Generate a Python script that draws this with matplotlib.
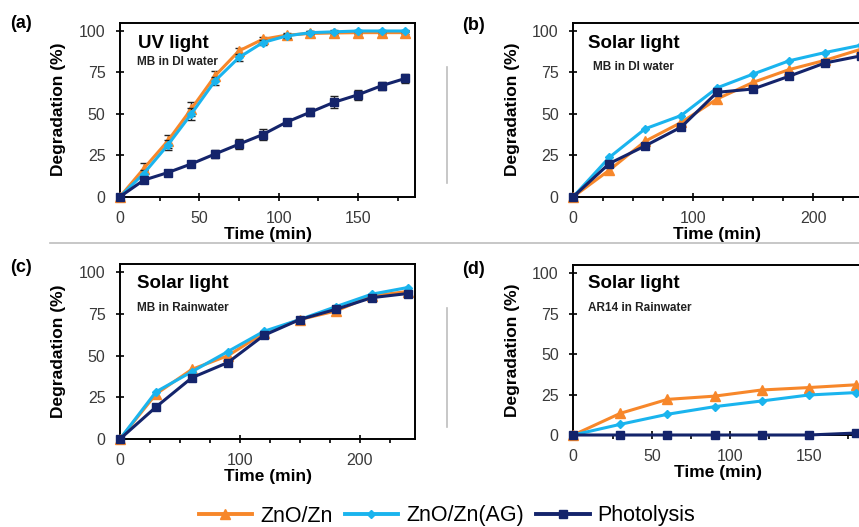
import numpy as np
import matplotlib
matplotlib.use("Agg")
import matplotlib.pyplot as plt
from matplotlib.lines import Line2D
from matplotlib.ticker import MultipleLocator

plt.rcParams['font.family'] = ['Liberation Sans', 'DejaVu Sans']

# ---- data ----
t_a = [0, 15, 30, 45, 60, 75, 90, 105, 120, 135, 150, 165, 180]
zno_a = [0, 17, 33.5, 53, 73, 88, 95, 97.5, 98.5, 98.8, 99, 99, 99]
zno_a_err = [0, 3.5, 4, 4, 3, 2, 1.5, 1, 1.5, 1.5, 1, 1, 1]
ag_a = [0, 14, 31, 50, 70, 84, 93, 97, 99, 99.5, 100, 100, 100]
ag_a_err = [0, 2, 3, 3.5, 2.5, 2, 1.5, 1, 1, 0.5, 0.5, 0.5, 0.5]
pho_a = [0, 10, 14.5, 19.8, 25.8, 31.7, 37.5, 45, 51, 57, 61.5, 67, 71.4]
pho_a_err = [0, 2, 1.5, 1.5, 2.5, 3, 3.5, 2, 2.5, 3.5, 3, 2.5, 2.5]

t_b = [0, 30, 60, 90, 120, 150, 180, 210, 240]
zno_b = [0, 16, 33.5, 44.8, 59, 69, 76.7, 82.3, 89]
ag_b = [0, 23.7, 41, 49, 65.7, 74, 82, 87, 91.4]
pho_b = [0, 20, 30.7, 42, 63, 65, 72.7, 80.7, 85]

t_c = [0, 30, 60, 90, 120, 150, 180, 210, 240]
zno_c = [0, 27, 41.8, 50, 63.6, 71.7, 76.8, 85.9, 88.5]
ag_c = [0, 28.3, 40.4, 52.5, 64.6, 71.7, 79.4, 86.9, 90.9]
pho_c = [0, 19.2, 36.8, 45.9, 62.2, 71.7, 77.8, 84.8, 87.3]

t_d = [0, 30, 60, 90, 120, 150, 180]
zno_d = [0, 13.4, 22, 24, 27.8, 29.3, 31]
ag_d = [0, 6.6, 12.8, 17.5, 21, 24.7, 26.2]
pho_d = [0, 0, 0, 0, 0, 0, 1.2]

panel_tags = ['(a)', '(b)', '(c)', '(d)']
titles = ['UV light', 'Solar light', 'Solar light', 'Solar light']
subtitles = ['MB in DI water', 'MB in DI water', 'MB in Rainwater', 'AR14 in Rainwater']
series_names = ['ZnO/Zn', 'ZnO/Zn(AG)', 'Photolysis']

c_zno = '#F7872A'
c_ag = '#1AB4EE'
c_pho = '#14246B'

W, H = 859, 527
fig = plt.figure(figsize=(W / 100, H / 100), dpi=100)


def px_axes(left, top, right, bottom):
    return fig.add_axes([left / W, 1 - bottom / H, (right - left) / W, (bottom - top) / H])


ax_a = px_axes(120, 22.7, 415, 196.7)
ax_b = px_axes(573.3, 22.7, 861, 196.7)
ax_c = px_axes(120, 264, 415, 439)
ax_d = px_axes(573.3, 265, 862, 435)

panels = [
    (ax_a, t_a, [zno_a, ag_a, pho_a], [zno_a_err, ag_a_err, pho_a_err], 186, 50),
    (ax_b, t_b, [zno_b, ag_b, pho_b], None, 240, 100),
    (ax_c, t_c, [zno_c, ag_c, pho_c], None, 246, 100),
    (ax_d, t_d, [zno_d, ag_d, pho_d], None, 184, 50),
]

# title / subtitle positions inside each panel (axes fraction)
title_xy = [(0.061, 0.883), (0.052, 0.883), (0.058, 0.89), (0.052, 0.894)]
sub_xy = [(0.058, 0.774), (0.069, 0.745), (0.058, 0.747), (0.052, 0.747)]

styles = [
    dict(color=c_zno, marker='^', markersize=6.5),
    dict(color=c_ag, marker='D', markersize=4.5),
    dict(color=c_pho, marker='s', markersize=6),
]

for i, (ax, t, ys, errs, xmax, xmaj) in enumerate(panels):
    for j, y in enumerate(ys):
        st = styles[j]
        if errs is not None:
            ax.errorbar(t, y, yerr=errs[j], color=st['color'], marker=st['marker'],
                        markersize=st['markersize'], lw=2.2, ecolor='#222222',
                        elinewidth=1, capsize=3, capthick=1, zorder=3 + j,
                        label=series_names[j], clip_on=False)
        else:
            ax.plot(t, y, lw=2.2, zorder=3 + j, label=series_names[j],
                    clip_on=False, **st)
    ax.set_xlim(0, xmax)
    ax.set_ylim(0, 105)
    ax.set_yticks([0, 25, 50, 75, 100])
    ax.xaxis.set_major_locator(MultipleLocator(xmaj))
    ax.xaxis.set_minor_locator(MultipleLocator(25))
    ax.tick_params(axis='both', which='major', direction='inout', length=6,
                   width=1.2, labelsize=11.5, labelcolor='#3a3a3a')
    ax.tick_params(axis='x', which='minor', direction='out', length=3, width=1.2)
    ax.tick_params(axis='x', which='major', pad=7)
    ax.tick_params(axis='y', which='major', pad=7.5)
    for sp in ax.spines.values():
        sp.set_linewidth(1.4)
        sp.set_color('black')
    ax.set_xlabel('Time (min)', fontsize=12.5, fontweight='bold', labelpad=1)
    ax.set_ylabel('Degradation (%)', fontsize=12.5, fontweight='bold', labelpad=9)
    ax.text(*title_xy[i], titles[i], transform=ax.transAxes, fontsize=13.5,
            fontweight='bold', va='center', ha='left')
    ax.text(*sub_xy[i], subtitles[i], transform=ax.transAxes, fontsize=8.5,
            fontweight='bold', va='center', ha='left', color='#222222')

# panel tags
tag_pos = [(10, 24), (462, 26), (10, 268), (462, 270)]
for tag, (x, y) in zip(panel_tags, tag_pos):
    fig.text(x / W, 1 - y / H, tag, fontsize=13, fontweight='bold', va='center', ha='left')

# gray separator lines
sep = '#BDBDBD'
fig.add_artist(Line2D([50 / W, 1], [1 - 243 / H, 1 - 243 / H], color=sep, lw=1.2, zorder=0))
fig.add_artist(Line2D([447 / W, 447 / W], [1 - 67 / H, 1 - 183 / H], color=sep, lw=1.2))
fig.add_artist(Line2D([447 / W, 447 / W], [1 - 308 / H, 1 - 427 / H], color=sep, lw=1.2))

# legend
handles = [Line2D([], [], lw=2.8, **st) for st in styles]
fig.legend(handles, series_names, loc='center', bbox_to_anchor=(447 / W, 1 - 516 / H),
           ncol=3, frameon=False, fontsize=15.5, handlelength=2.5,
           handletextpad=0.37, columnspacing=0.55, borderpad=0)

fig.savefig('out.png', dpi=100)
